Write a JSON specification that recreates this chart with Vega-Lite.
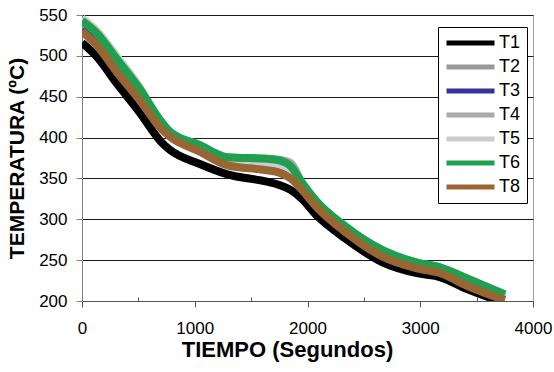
{
  "$schema": "https://vega.github.io/schema/vega-lite/v6.json",
  "width": 451,
  "height": 286,
  "autosize": "none",
  "padding": {"left": 82, "top": 15, "right": 21, "bottom": 71},
  "background": "white",
  "config": {
    "view": {"stroke": "#a0a0a0", "strokeWidth": 1},
    "font": "Liberation Sans"
  },
  "data": {
    "values": [
      {"s":"T1","t":0,"v":516},{"s":"T1","t":130,"v":499},{"s":"T1","t":310,"v":466},{"s":"T1","t":510,"v":431},{"s":"T1","t":700,"v":395},{"s":"T1","t":780,"v":385},{"s":"T1","t":1040,"v":368},{"s":"T1","t":1290,"v":355},{"s":"T1","t":1640,"v":346},{"s":"T1","t":1750,"v":342},{"s":"T1","t":1850,"v":336},{"s":"T1","t":1950,"v":325},{"s":"T1","t":2080,"v":305},{"s":"T1","t":2330,"v":277},{"s":"T1","t":2670,"v":247},{"s":"T1","t":2970,"v":234},{"s":"T1","t":3180,"v":229},{"s":"T1","t":3410,"v":215},{"s":"T1","t":3700,"v":200},
      {"s":"T2","t":0,"v":533},{"s":"T2","t":130,"v":516},{"s":"T2","t":310,"v":483},{"s":"T2","t":510,"v":449},{"s":"T2","t":700,"v":414},{"s":"T2","t":780,"v":404},{"s":"T2","t":1040,"v":386},{"s":"T2","t":1290,"v":369},{"s":"T2","t":1640,"v":363},{"s":"T2","t":1750,"v":360},{"s":"T2","t":1850,"v":353},{"s":"T2","t":1950,"v":339},{"s":"T2","t":2080,"v":318},{"s":"T2","t":2330,"v":288},{"s":"T2","t":2670,"v":257},{"s":"T2","t":2970,"v":243},{"s":"T2","t":3180,"v":237},{"s":"T2","t":3410,"v":222},{"s":"T2","t":3750,"v":204},
      {"s":"T3","t":0,"v":532},{"s":"T3","t":130,"v":515},{"s":"T3","t":310,"v":482},{"s":"T3","t":510,"v":448},{"s":"T3","t":700,"v":413},{"s":"T3","t":780,"v":403},{"s":"T3","t":1040,"v":385},{"s":"T3","t":1290,"v":368},{"s":"T3","t":1640,"v":362},{"s":"T3","t":1750,"v":359},{"s":"T3","t":1850,"v":352},{"s":"T3","t":1950,"v":338},{"s":"T3","t":2080,"v":317},{"s":"T3","t":2330,"v":287},{"s":"T3","t":2670,"v":256},{"s":"T3","t":2970,"v":242},{"s":"T3","t":3180,"v":236},{"s":"T3","t":3410,"v":221},{"s":"T3","t":3750,"v":203},
      {"s":"T4","t":0,"v":544},{"s":"T4","t":130,"v":528},{"s":"T4","t":310,"v":496},{"s":"T4","t":510,"v":460},{"s":"T4","t":700,"v":420},{"s":"T4","t":780,"v":407},{"s":"T4","t":1040,"v":391},{"s":"T4","t":1290,"v":376},{"s":"T4","t":1640,"v":374},{"s":"T4","t":1750,"v":373},{"s":"T4","t":1850,"v":369},{"s":"T4","t":1950,"v":345},{"s":"T4","t":2080,"v":322},{"s":"T4","t":2330,"v":292},{"s":"T4","t":2670,"v":262},{"s":"T4","t":2970,"v":247},{"s":"T4","t":3180,"v":241},{"s":"T4","t":3410,"v":228},{"s":"T4","t":3750,"v":208},
      {"s":"T5","t":0,"v":546},{"s":"T5","t":130,"v":531},{"s":"T5","t":310,"v":499},{"s":"T5","t":510,"v":462},{"s":"T5","t":700,"v":415},{"s":"T5","t":780,"v":402},{"s":"T5","t":1040,"v":386},{"s":"T5","t":1290,"v":371},{"s":"T5","t":1640,"v":369},{"s":"T5","t":1750,"v":367},{"s":"T5","t":1850,"v":361},{"s":"T5","t":1950,"v":340},{"s":"T5","t":2080,"v":317},{"s":"T5","t":2330,"v":287},{"s":"T5","t":2670,"v":257},{"s":"T5","t":2970,"v":242},{"s":"T5","t":3180,"v":236},{"s":"T5","t":3410,"v":223},{"s":"T5","t":3750,"v":204},
      {"s":"T6","t":0,"v":543},{"s":"T6","t":130,"v":528},{"s":"T6","t":310,"v":496},{"s":"T6","t":510,"v":460},{"s":"T6","t":700,"v":420},{"s":"T6","t":780,"v":407},{"s":"T6","t":1040,"v":391},{"s":"T6","t":1290,"v":376},{"s":"T6","t":1640,"v":374},{"s":"T6","t":1750,"v":372},{"s":"T6","t":1850,"v":365},{"s":"T6","t":1950,"v":345},{"s":"T6","t":2080,"v":322},{"s":"T6","t":2330,"v":292},{"s":"T6","t":2670,"v":262},{"s":"T6","t":2970,"v":247},{"s":"T6","t":3180,"v":241},{"s":"T6","t":3410,"v":228},{"s":"T6","t":3750,"v":208},
      {"s":"T8","t":0,"v":530},{"s":"T8","t":130,"v":513},{"s":"T8","t":310,"v":480},{"s":"T8","t":510,"v":446},{"s":"T8","t":700,"v":411},{"s":"T8","t":780,"v":401},{"s":"T8","t":1040,"v":383},{"s":"T8","t":1290,"v":366},{"s":"T8","t":1640,"v":360},{"s":"T8","t":1750,"v":357},{"s":"T8","t":1850,"v":350},{"s":"T8","t":1950,"v":336},{"s":"T8","t":2080,"v":315},{"s":"T8","t":2330,"v":285},{"s":"T8","t":2670,"v":254},{"s":"T8","t":2970,"v":240},{"s":"T8","t":3180,"v":234},{"s":"T8","t":3410,"v":219},{"s":"T8","t":3750,"v":201}
    ]
  },
  "mark": {"type": "line", "strokeWidth": 8, "interpolate": "monotone", "strokeCap": "butt", "clip": true},
  "encoding": {
    "x": {
      "field": "t", "type": "quantitative",
      "scale": {"domain": [0, 4000], "nice": false},
      "axis": {
        "values": [0,500,1000,1500,2000,2500,3000,3500,4000],
        "labelExpr": "datum.value % 1000 == 0 ? datum.label : ''",
        "format": "d",
        "grid": false,
        "domainColor": "#555555",
        "tickColor": "#555555",
        "tickSize": {"condition": {"test": "datum.value % 1000 != 0", "value": -4}, "value": 6},
        "labelFontSize": 17,
        "labelColor": "#000000",
        "labelPadding": 13,
        "labelFlush": false,
        "title": "TIEMPO (Segundos)",
        "titleFontSize": 22,
        "titleFontWeight": "bold",
        "titleColor": "#000000",
        "titlePadding": 3,
        "titleX": 205
      }
    },
    "y": {
      "field": "v", "type": "quantitative",
      "scale": {"domain": [200, 550], "nice": false, "zero": false},
      "axis": {
        "values": [200,250,300,350,400,450,500,550],
        "grid": true,
        "gridColor": "#1a1a1a",
        "gridWidth": 1,
        "domainColor": "#808080",
        "tickColor": "#808080",
        "tickSize": 6,
        "labelFontSize": 17,
        "labelColor": "#000000",
        "labelPadding": 9,
        "title": "TEMPERATURA (ºC)",
        "titleFontSize": 21,
        "titleFontWeight": "bold",
        "titleColor": "#000000",
        "titlePadding": 11
      }
    },
    "color": {
      "field": "s", "type": "nominal",
      "scale": {
        "domain": ["T1","T2","T3","T4","T5","T6","T8"],
        "range": ["#000000","#999999","#333399","#aaaaaa","#cccccc","#20a04e","#996633"]
      },
      "legend": {
        "title": null,
        "orient": "none",
        "legendX": 356,
        "legendY": 12,
        "fillColor": "white",
        "strokeColor": "#000000",
        "padding": 6,
        "symbolType": "stroke",
        "symbolSize": 2304,
        "symbolStrokeWidth": 5,
        "clipHeight": 20,
        "rowPadding": 4,
        "labelFontSize": 18,
        "labelColor": "#000000",
        "labelOffset": 2
      }
    }
  }
}
